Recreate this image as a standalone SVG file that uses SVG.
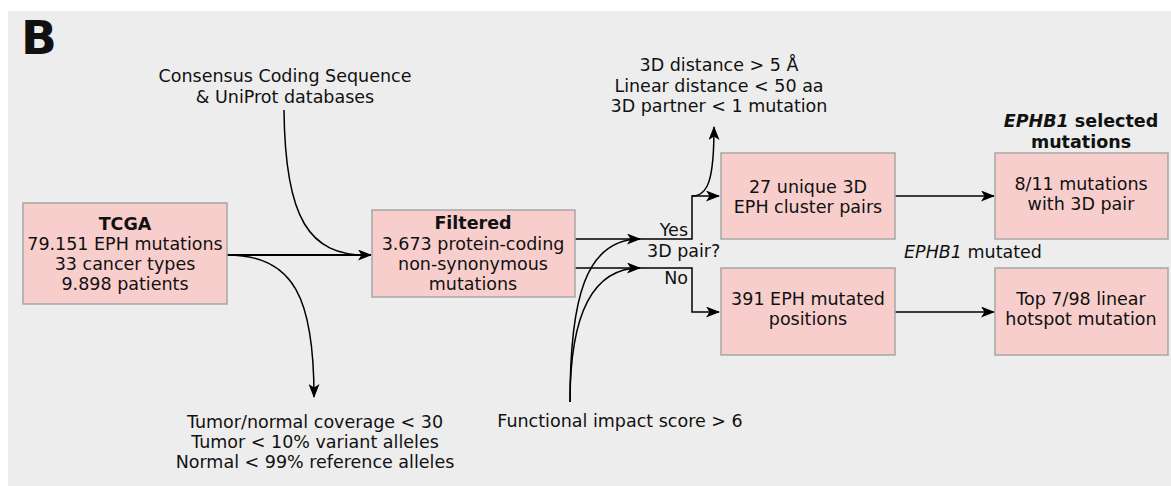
<svg xmlns="http://www.w3.org/2000/svg" width="1171" height="486" viewBox="0 0 1171 486">
<style>
text{font-family:"DejaVu Sans","Verdana",sans-serif;font-size:17.5px;fill:#111}
.b{font-weight:bold}
.c{text-anchor:middle}
.box{fill:#f8cecc;stroke:#a6a6a6;stroke-width:1.5}
.ln{fill:none;stroke:#000;stroke-width:1.5}
.th{fill:none;stroke:#000;stroke-width:2}
</style>
<defs>
<marker id="ah" viewBox="0 0 14 11" refX="13" refY="5.5" markerWidth="14" markerHeight="11" markerUnits="userSpaceOnUse" orient="auto">
<path d="M0,0 L14,5.5 L0,11 L3.5,5.5 z" fill="#000"/>
</marker>
</defs>
<rect x="8" y="11" width="1163" height="475" fill="#ededed"/>
<text x="21" y="54" style="font-size:47px;font-weight:900" class="b">B</text>

<g id="connectors">
<path class="th" d="M227,255 L371,255" marker-end="url(#ah)"/>
<path class="ln" d="M284,110 C285,220 310,255 366,255"/>
<path class="ln" d="M227,255 C295,255 314,300 314,397" marker-end="url(#ah)"/>
<path class="ln" d="M575,239 L692,239 L692,196 L719,196" marker-end="url(#ah)"/>
<path class="ln" d="M575,268 L692,268 L692,312 L719,312" marker-end="url(#ah)"/>
<path class="ln" d="M692,196 C708,196 714,180 714,127" marker-end="url(#ah)"/>
<path class="ln" d="M570,402 C570,300 585,239 640,239" marker-end="url(#ah)"/>
<path class="ln" d="M570,402 C570,320 590,268 640,268" marker-end="url(#ah)"/>
<path class="ln" d="M895,196 L994,196" marker-end="url(#ah)"/>
<path class="ln" d="M895,312 L994,312" marker-end="url(#ah)"/>
</g>

<g id="tcga">
<rect class="box" x="23" y="203" width="204" height="101"/>
<text class="c b" x="125" y="230">TCGA</text>
<text class="c" x="125" y="250">79.151 EPH mutations</text>
<text class="c" x="125" y="270">33 cancer types</text>
<text class="c" x="125" y="290">9.898 patients</text>
</g>

<g id="filtered">
<rect class="box" x="372" y="210" width="203" height="87"/>
<text class="c b" x="473" y="229">Filtered</text>
<text class="c" x="473" y="250">3.673 protein-coding</text>
<text class="c" x="473" y="270">non-synonymous</text>
<text class="c" x="473" y="290">mutations</text>
</g>

<g id="consensus">
<text class="c" x="285" y="82">Consensus Coding Sequence</text>
<text class="c" x="285" y="103">&amp; UniProt databases</text>
</g>

<g id="tumor-filter">
<text class="c" x="315" y="428">Tumor/normal coverage &lt; 30</text>
<text class="c" x="315" y="448">Tumor &lt; 10% variant alleles</text>
<text class="c" x="315" y="468">Normal &lt; 99% reference alleles</text>
</g>

<g id="functional">
<text class="c" x="620" y="427">Functional impact score &gt; 6</text>
</g>

<g id="decision">
<text x="688" y="236" text-anchor="end">Yes</text>
<text x="647" y="257">3D pair?</text>
<text x="688" y="284" text-anchor="end">No</text>
</g>

<g id="cluster-criteria">
<text class="c" x="719" y="71">3D distance &gt; 5 Å</text>
<text class="c" x="719" y="92">Linear distance &lt; 50 aa</text>
<text class="c" x="719" y="112">3D partner &lt; 1 mutation</text>
</g>

<g id="pairs">
<rect class="box" x="721" y="153" width="174" height="86"/>
<text class="c" x="808" y="193">27 unique 3D</text>
<text class="c" x="808" y="213">EPH cluster pairs</text>
</g>

<g id="positions">
<rect class="box" x="721" y="268" width="174" height="87"/>
<text class="c" x="808" y="305">391 EPH mutated</text>
<text class="c" x="808" y="325">positions</text>
</g>

<g id="selected-title">
<text class="c b" x="1081" y="127"><tspan font-style="italic">EPHB1</tspan> selected</text>
<text class="c b" x="1081" y="148">mutations</text>
</g>

<g id="ephb1-mutated">
<text class="c" x="973" y="258"><tspan font-style="italic">EPHB1</tspan> mutated</text>
</g>

<g id="with-pair">
<rect class="box" x="995" y="153" width="173" height="86"/>
<text class="c" x="1081" y="190">8/11 mutations</text>
<text class="c" x="1081" y="210">with 3D pair</text>
</g>

<g id="hotspot">
<rect class="box" x="995" y="268" width="173" height="87"/>
<text class="c" x="1081" y="305">Top 7/98 linear</text>
<text class="c" x="1081" y="325">hotspot mutation</text>
</g>
</svg>
